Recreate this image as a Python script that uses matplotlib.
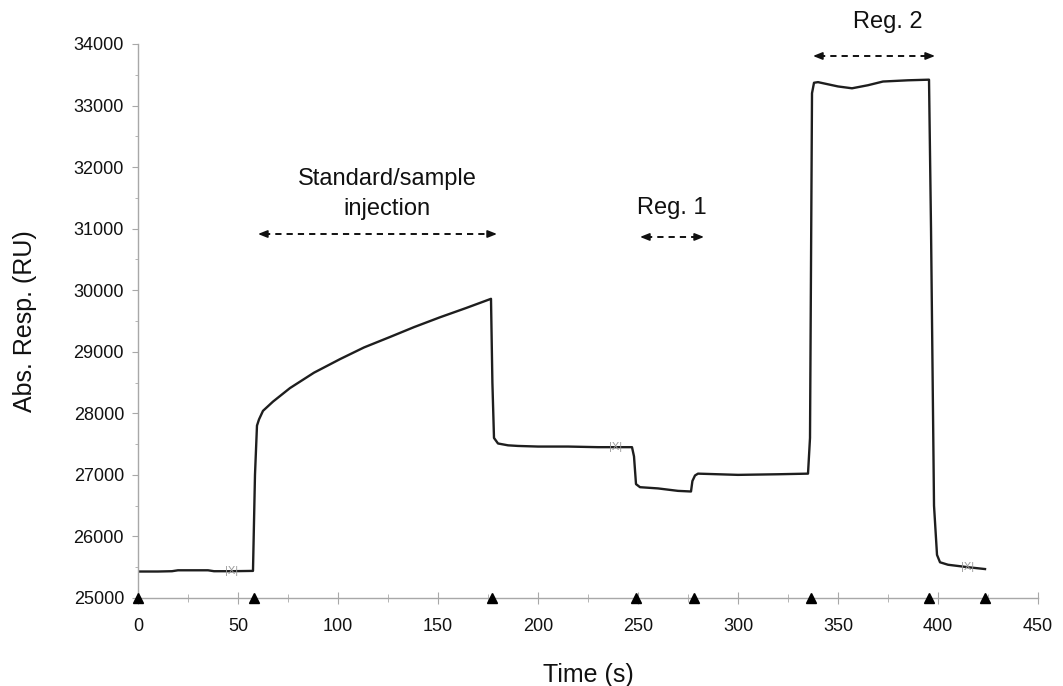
import matplotlib
matplotlib.use("Agg")
import matplotlib.pyplot as plt
from matplotlib.ticker import MultipleLocator

plt.rcParams['font.family'] = ['Liberation Sans', 'DejaVu Sans']

# Sensorgram: absolute response vs time
time_s = [0, 10, 17, 20, 35, 38, 47, 57.5, 58.5, 59.5, 60.5, 62.5, 67.5, 76, 88,
          101, 113, 126, 138, 151, 164, 176.5, 177.2, 178, 180, 185, 190, 200,
          215, 230, 247, 248, 249, 251, 260, 270, 276.5, 277.2, 278.5, 280, 290,
          300, 320, 335, 336, 337, 338, 340, 350, 357, 365, 372.5, 385, 395.5,
          396.5, 398, 399.5, 401, 405, 415, 423.5]
response_ru = [25430, 25430, 25435, 25450, 25450, 25435, 25435, 25440, 27000,
               27800, 27900, 28040, 28190, 28410, 28660, 28880, 29070, 29240,
               29400, 29560, 29710, 29860, 28500, 27600, 27510, 27480, 27470,
               27460, 27460, 27450, 27450, 27300, 26850, 26800, 26780, 26740,
               26730, 26900, 26990, 27020, 27010, 27000, 27010, 27020, 27600,
               33200, 33370, 33380, 33310, 33280, 33330, 33390, 33410, 33420,
               31000, 26500, 25700, 25580, 25540, 25500, 25470]

# Event markers along the time axis
event_times = [0, 58, 177, 249, 278, 336.5, 395.5, 423.5]

# Injection flags on the curve
flag_times = [47, 239, 415]
flag_values = [25440, 27450, 25500]

# Phase annotations: label, label position, arrow span, arrow level
phase_labels = ["Standard/sample\ninjection", "Reg. 1", "Reg. 2"]
phase_label_x = [124.5, 267, 375]
phase_label_y = [31560, 31335, 34350]
phase_start = [60, 251, 337.5]
phase_end = [179.5, 283, 398.5]
phase_level = [30913, 30865, 33805]

fig = plt.figure(figsize=(10.63, 6.86), dpi=100)
ax = fig.add_axes([0.1298, 0.1283, 0.8467, 0.8076])

ax.plot(time_s, response_ru, color='#1e1e1e', lw=1.7, solid_joinstyle='round')

ax.plot(event_times, [25000] * len(event_times), linestyle='none', marker='^',
        color='black', markersize=6.5, clip_on=False, zorder=5)

for t, v in zip(flag_times, flag_values):
    ax.text(t, v, "|X|", color='#9a9a9a', fontsize=8, ha='center', va='center',
            zorder=4)

for lab, lx, ly, x0, x1, yl in zip(phase_labels, phase_label_x, phase_label_y,
                                   phase_start, phase_end, phase_level):
    ax.text(lx, ly, lab, fontsize=17, ha='center', va='center',
            linespacing=1.45, color='#111111')
    head = 3.0
    ax.plot([x0 + head, x1 - head], [yl, yl], color='#111111', lw=1.4,
            linestyle=(0, (3.2, 2.6)), clip_on=False)
    for a, b in ((x0 + head + 0.5, x0), (x1 - head - 0.5, x1)):
        ax.annotate("", xy=(b, yl), xytext=(a, yl),
                    arrowprops=dict(arrowstyle='-|>,head_length=0.55,head_width=0.22',
                                    color='#111111', lw=1.2,
                                    shrinkA=0, shrinkB=0),
                    annotation_clip=False)

ax.set_xlim(0, 450)
ax.set_ylim(25000, 34000)
ax.xaxis.set_major_locator(MultipleLocator(50))
ax.xaxis.set_minor_locator(MultipleLocator(25))
ax.yaxis.set_major_locator(MultipleLocator(1000))
ax.yaxis.set_minor_locator(MultipleLocator(500))

for side in ('top', 'right'):
    ax.spines[side].set_visible(False)
for side in ('left', 'bottom'):
    ax.spines[side].set_color('#a8a8a8')
    ax.spines[side].set_linewidth(1.0)

ax.tick_params(axis='x', which='major', direction='inout', length=8,
               color='#a8a8a8', labelsize=13, pad=10.5)
ax.tick_params(axis='x', which='minor', direction='inout', length=6,
               color='#a8a8a8')
ax.tick_params(axis='y', which='major', direction='out', length=4,
               color='#a8a8a8', labelsize=13, pad=6)
ax.tick_params(axis='y', which='minor', direction='out', length=2,
               color='#a8a8a8')
for lab in ax.get_xticklabels() + ax.get_yticklabels():
    lab.set_color('#111111')

ax.set_xlabel("Time (s)", fontsize=18, labelpad=20, color='#111111')
ax.set_ylabel("Abs. Resp. (RU)", fontsize=18, labelpad=26, color='#111111')

fig.savefig("out.png", dpi=100)
